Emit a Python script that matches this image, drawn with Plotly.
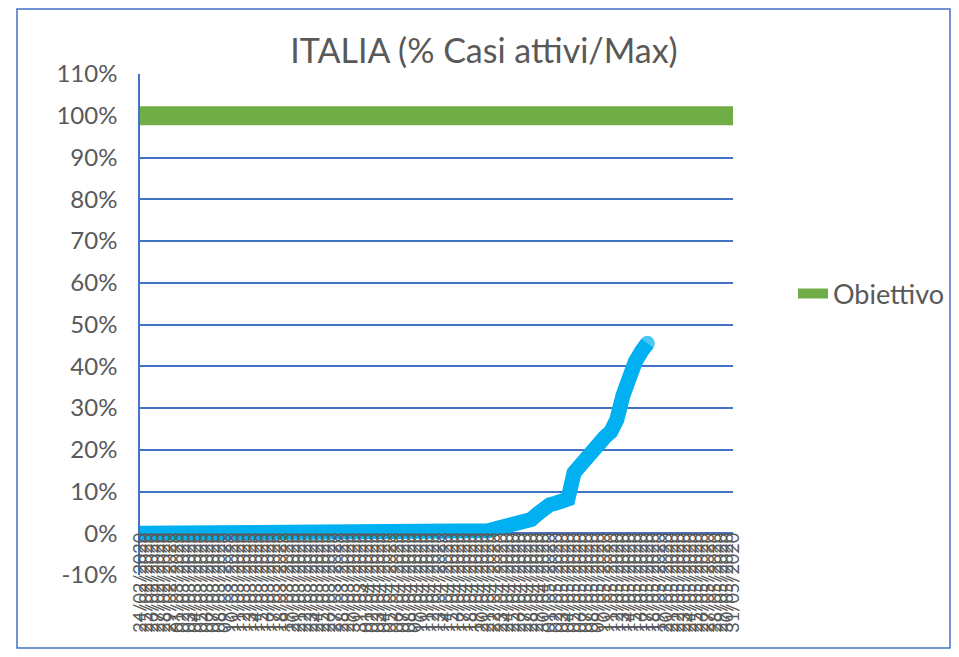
import pandas as pd
import plotly.graph_objects as go

# ---- data ----
dates = [d.strftime("%d/%m/%Y") for d in pd.date_range("2020-02-24", "2020-05-31", freq="D")]

obiettivo = [
    1.0, 1.0, 1.0, 1.0, 1.0, 1.0, 1.0, 1.0, 1.0, 1.0, 1.0, 1.0, 1.0, 1.0,
    1.0, 1.0, 1.0, 1.0, 1.0, 1.0, 1.0, 1.0, 1.0, 1.0, 1.0, 1.0, 1.0, 1.0,
    1.0, 1.0, 1.0, 1.0, 1.0, 1.0, 1.0, 1.0, 1.0, 1.0, 1.0, 1.0, 1.0, 1.0,
    1.0, 1.0, 1.0, 1.0, 1.0, 1.0, 1.0, 1.0, 1.0, 1.0, 1.0, 1.0, 1.0, 1.0,
    1.0, 1.0, 1.0, 1.0, 1.0, 1.0, 1.0, 1.0, 1.0, 1.0, 1.0, 1.0, 1.0, 1.0,
    1.0, 1.0, 1.0, 1.0, 1.0, 1.0, 1.0, 1.0, 1.0, 1.0, 1.0, 1.0, 1.0, 1.0,
    1.0, 1.0, 1.0, 1.0, 1.0, 1.0, 1.0, 1.0, 1.0, 1.0, 1.0, 1.0, 1.0, 1.0,
]

casi_attivi_pct = [
    0, 0, 0, 0, 0, 0, 0, 0, 0, 0, 0, 0, 0, 0,
    0, 0, 0, 0, 0, 0, 0, 0, 0, 0, 0, 0, 0, 0,
    0, 0, 0, 0, 0, 0, 0, 0, 0, 0, 0, 0, 0, 0,
    0, 0, 0, 0, 0, 0, 0, 0, 0, 0, 0, 0, 0, 0,
    0.003, 0.006, 0.010, 0.014, 0.018, 0.021, 0.024, 0.027, 0.033, 0.046,
    0.063, 0.068, 0.072, 0.076, 0.082, 0.145, 0.165, 0.182, 0.202, 0.218,
    0.230, 0.243, 0.272, 0.330, 0.375, 0.410, 0.435, 0.455,
]

y_tickvals = [-0.1, 0.0, 0.1, 0.2, 0.3, 0.4, 0.5, 0.6, 0.7, 0.8, 0.9, 1.0, 1.1]
y_ticktext = ["-10%", "0%", "10%", "20%", "30%", "40%", "50%", "60%", "70%", "80%", "90%", "100%", "110%"]

title_text = "ITALIA (% Casi attivi/Max)"

# ---- figure ----
OFF = 8                      # default page body margin
W, H = 959 - OFF, 657 - 2 * OFF   # fits the window exactly, no scrolling
L = 140 - OFF
R = W - (733 - OFF)
T = 74 - OFF
B = H - (575 - OFF)
FONT = "Lato, sans-serif"
GRID = "#4472C4"
TXT = "#595959"


def fx(px):  # absolute page x -> plot-area fraction
    return (px - OFF - L) / (W - L - R)


def fy(py):  # absolute page y -> plot-area fraction
    return (H - (py - OFF) - B) / (H - T - B)


fig = go.Figure()

fig.add_trace(go.Scatter(
    x=dates, y=obiettivo, mode="lines", name="Obiettivo",
    line=dict(color="#70AD47", width=19),
))

marker_sizes = [0] * (len(casi_attivi_pct) - 1) + [15]
fig.add_trace(go.Scatter(
    x=dates[:len(casi_attivi_pct)], y=casi_attivi_pct, mode="lines+markers",
    name="Casi attivi", showlegend=False,
    line=dict(color="#00B0F0", width=15),
    marker=dict(color="#00B0F0", size=marker_sizes, line=dict(width=0)),
))

ymin, ymax = -0.1, 1.1
fig.update_layout(
    width=W, height=H,
    margin=dict(l=L, r=R, t=T, b=B, autoexpand=False),
    paper_bgcolor="white", plot_bgcolor="white",
    font=dict(family=FONT, color=TXT),
    title=dict(text=title_text, xref="container", yref="container",
               x=(484 - OFF) / W, xanchor="center",
               y=1 - (51 - OFF) / H, yanchor="middle",
               font=dict(family=FONT, size=34, color=TXT)),
    showlegend=True,
    legend=dict(xref="container", yref="container",
                x=(793 - OFF) / W, xanchor="left",
                y=1 - (294 - OFF) / H, yanchor="middle",
                font=dict(family=FONT, size=27, color=TXT),
                bgcolor="rgba(0,0,0,0)"),
    xaxis=dict(
        type="category", range=[0, len(dates) - 1],
        anchor="free", position=(0 - ymin) / (ymax - ymin),
        tickmode="linear", dtick=1, tickangle=-90,
        tickfont=dict(family=FONT, size=18, color=TXT),
        ticklabelstandoff=-5, automargin=False,
        showgrid=False, zeroline=False, showline=False, ticks="",
    ),
    yaxis=dict(
        range=[ymin, ymax], tickmode="array",
        tickvals=y_tickvals, ticktext=y_ticktext,
        tickfont=dict(family=FONT, size=24, color=TXT),
        showgrid=True, gridcolor=GRID, gridwidth=1.5,
        zeroline=False, showline=True, linecolor=GRID, linewidth=1.5,
        ticks="", ticklabelstandoff=16, automargin=False,
    ),
    shapes=[dict(type="rect", xref="paper", yref="paper",
                 x0=fx(17), x1=fx(950), y0=fy(OFF + H - 1), y1=fy(OFF + 1),
                 line=dict(color=GRID, width=1.5), fillcolor="rgba(0,0,0,0)")],
)

fig.write_html("out.html")
